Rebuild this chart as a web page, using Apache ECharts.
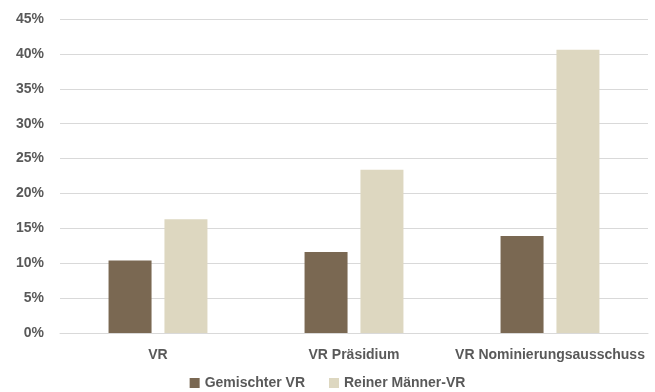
<!DOCTYPE html>
<html><head><meta charset="utf-8">
<script src="https://cdn.jsdelivr.net/npm/echarts@6/dist/echarts.min.js"></script>
<style>html,body{margin:0;padding:0;background:#fff}#c{width:655px;height:392px}</style>
</head><body><div id="c"></div>
<script>
var categories = ['VR', 'VR Präsidium', 'VR Nominierungsausschuss'];
var seriesNames = ['Gemischter VR', 'Reiner Männer-VR'];
var gemischt = [10.4, 11.6, 13.9];
var reinMaenner = [16.3, 23.4, 40.6];

var font = 'Liberation Sans';
var txt = '#595959';
var chart = echarts.init(document.getElementById('c'), null, {renderer: 'canvas'});
chart.setOption({
  animation: false,
  textStyle: {fontFamily: font},
  grid: {left: 60, right: 7, top: 19, bottom: 59, containLabel: false},
  legend: {
    top: 371, left: 'center',
    itemWidth: 10, itemHeight: 10, itemGap: 24,
    icon: 'rect',
    textStyle: {color: txt, fontSize: 14, fontWeight: 'bold', fontFamily: font},
    data: seriesNames
  },
  xAxis: {
    type: 'category', data: categories,
    axisLine: {lineStyle: {color: '#d9d9d9', width: 1}},
    axisTick: {show: false},
    axisLabel: {color: txt, fontSize: 14, fontWeight: 'bold', margin: 15, interval: 0, fontFamily: font}
  },
  yAxis: {
    type: 'value', min: 0, max: 45, interval: 5,
    axisLine: {show: false}, axisTick: {show: false},
    splitLine: {lineStyle: {color: '#d9d9d9', width: 1}},
    axisLabel: {color: txt, fontSize: 14, fontWeight: 'bold', margin: 16, fontFamily: font,
      formatter: function (v) { return v + '%'; }}
  },
  series: [
    {name: seriesNames[0], type: 'bar', data: gemischt, barWidth: 43, barGap: '30%',
     itemStyle: {color: '#7a6852'}},
    {name: seriesNames[1], type: 'bar', data: reinMaenner, barWidth: 43, barGap: '30%',
     itemStyle: {color: '#ddd7c0'}}
  ]
});
</script></body></html>
